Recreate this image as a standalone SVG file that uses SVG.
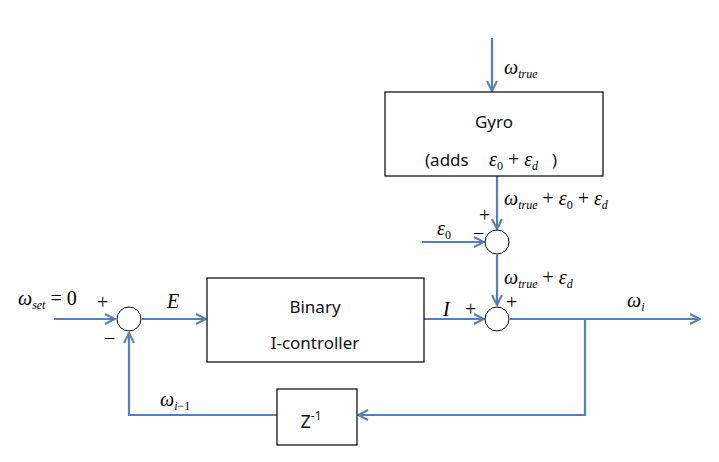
<svg xmlns="http://www.w3.org/2000/svg" width="719" height="462" viewBox="0 0 719 462">
<defs>
<marker id="arr" viewBox="0 0 12 12" refX="11" refY="6" markerWidth="12" markerHeight="12" markerUnits="userSpaceOnUse" orient="auto">
<polyline points="1,1 11,6 1,11" fill="none" stroke="#4F81BD" stroke-width="2"/>
</marker>
</defs>
<style>
.blk{fill:#fff;stroke:#000;stroke-width:1.2}
.sum{fill:#fff;stroke:#000;stroke-width:1}
.ln{fill:none;stroke:#4F81BD;stroke-width:2.2}
.t{font-family:"Noto Sans","Open Sans",sans-serif;font-size:17px;fill:#111}
.m{font-family:"Liberation Serif",serif;font-style:italic;font-size:20px;fill:#000}
.r{font-family:"Liberation Serif",serif;font-style:normal;font-size:20px}
.s{font-size:12px}
.sn{font-style:normal;font-size:12px}
.sg{font-family:"Liberation Serif",serif;font-size:20px;fill:#000}
</style>
<g id="connectors">
<line class="ln" x1="492" y1="38" x2="492" y2="91" marker-end="url(#arr)"/>
<line class="ln" x1="497" y1="176" x2="497" y2="229" marker-end="url(#arr)"/>
<line class="ln" x1="422" y1="242" x2="484" y2="242" marker-end="url(#arr)"/>
<line class="ln" x1="497" y1="255" x2="497" y2="305" marker-end="url(#arr)"/>
<line class="ln" x1="424" y1="319" x2="484" y2="319" marker-end="url(#arr)"/>
<line class="ln" x1="510" y1="319" x2="700" y2="319" marker-end="url(#arr)"/>
<polyline class="ln" points="585,319 585,415 358,415" marker-end="url(#arr)"/>
<polyline class="ln" points="277,415 129,415 129,333" marker-end="url(#arr)"/>
<line class="ln" x1="54" y1="319" x2="115" y2="319" marker-end="url(#arr)"/>
<line class="ln" x1="142" y1="319" x2="206" y2="319" marker-end="url(#arr)"/>
</g>
<g id="gyro">
<rect class="blk" x="385" y="92" width="218" height="84"/>
<text class="t" x="494" y="128" text-anchor="middle">Gyro</text>
<text class="t" x="425" y="166">(adds</text>
<text class="m" x="489" y="166">ε<tspan class="sn" dy="4">0</tspan><tspan class="r" dy="-4"> + </tspan>ε<tspan class="s" dy="4">d</tspan></text>
<text class="t" x="552" y="166">)</text>
</g>
<g id="sum1">
<circle class="sum" cx="497" cy="242" r="12"/>
<text class="sg" x="479" y="222">+</text>
<text class="sg" x="473" y="240">−</text>
</g>
<g id="sum2">
<circle class="sum" cx="497" cy="319" r="12"/>
<text class="sg" x="506" y="309">+</text>
<text class="sg" x="465" y="316">+</text>
</g>
<g id="sum3">
<circle class="sum" cx="129" cy="319" r="12"/>
<text class="sg" x="97" y="309">+</text>
<text class="sg" x="104" y="345">−</text>
</g>
<g id="binary">
<rect class="blk" x="207" y="278" width="217" height="84"/>
<text class="t" x="315" y="313" text-anchor="middle">Binary</text>
<text class="t" x="315" y="349" text-anchor="middle">I-controller</text>
</g>
<g id="delay">
<rect class="blk" x="277" y="389" width="80" height="56"/>
<text class="t" x="311" y="428" text-anchor="middle" style="font-size:18px">Z<tspan style="font-size:12px" dy="-8">-1</tspan></text>
</g>
<g id="labels">
<text class="m" x="504" y="74">ω<tspan class="s" dy="4">true</tspan></text>
<text class="m" x="504" y="205">ω<tspan class="s" dy="4">true</tspan><tspan class="r" dy="-4"> + </tspan>ε<tspan class="sn" dy="4">0</tspan><tspan class="r" dy="-4"> + </tspan>ε<tspan class="s" dy="4">d</tspan></text>
<text class="m" x="437" y="235">ε<tspan class="sn" dy="4">0</tspan></text>
<text class="m" x="504" y="284">ω<tspan class="s" dy="4">true</tspan><tspan class="r" dy="-4"> + </tspan>ε<tspan class="s" dy="4">d</tspan></text>
<text class="m" x="443" y="316">I</text>
<text class="m" x="627" y="307">ω<tspan class="s" dy="4">i</tspan></text>
<text class="m" x="18" y="305">ω<tspan class="s" dy="4">set</tspan><tspan class="r" dy="-4"> = 0</tspan></text>
<text class="m" x="167" y="308">E</text>
<text class="m" x="160" y="406">ω<tspan class="s" dy="4">i</tspan><tspan class="sn">−1</tspan></text>
</g>
</svg>
